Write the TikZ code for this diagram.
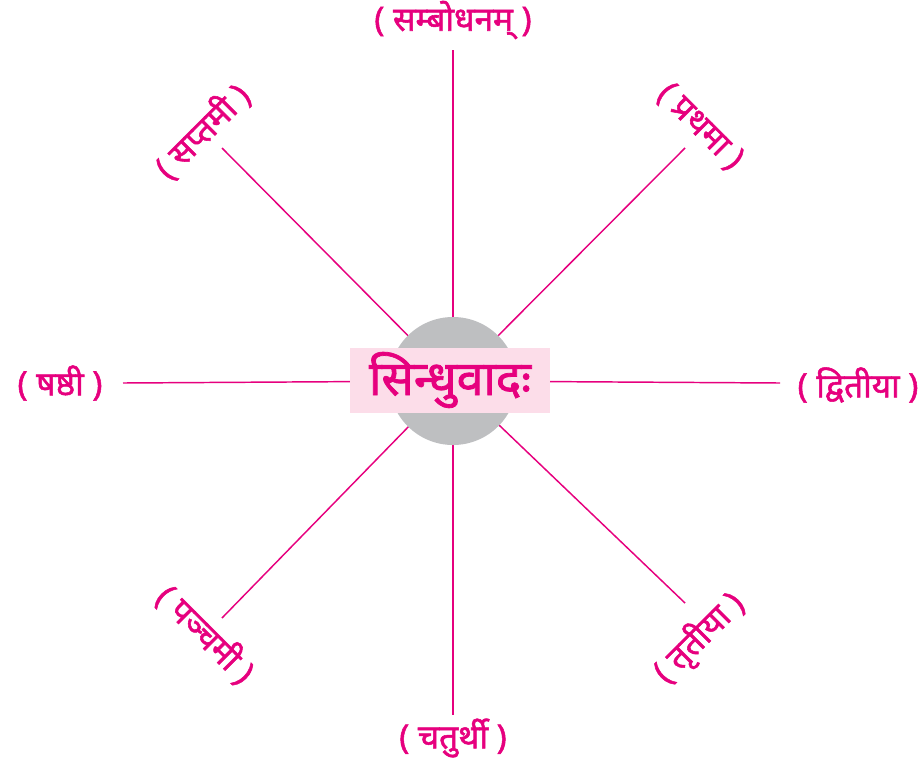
\documentclass[tikz,border=0pt]{standalone}
\usepackage{fontspec}
\newfontfamily\devfont[Script=Devanagari, FakeBold=1.6]{Noto Sans}
\definecolor{caseink}{RGB}{230,0,126}
\definecolor{titlepink}{RGB}{252,221,233}
\definecolor{discgray}{RGB}{190,191,193}

\tikzset{every picture/.style={line width=0.75pt}}
\tikzset{
  spoke/.style={draw=caseink, line width=1.1pt},
  caselabel/.style={text=caseink, inner sep=0.75pt, font=\devfont\fontsize{25}{29}\selectfont},
}

\begin{document}
\begin{tikzpicture}[x=0.75pt,y=0.75pt,yscale=-1,xscale=1]
\useasboundingbox (0,0) rectangle (923,764);

%centre of the wheel
\coordinate (hub) at (453,381);
%spoke ends
\coordinate (endN) at (453,50);
\coordinate (endS) at (453,715);
\coordinate (endW) at (123,383);
\coordinate (endE) at (780,383);
\coordinate (endNW) at (222,148);
\coordinate (endNE) at (685,148);
\coordinate (endSW) at (222,618);
\coordinate (endSE) at (685,603);

%Straight Lines
\foreach \e in {endN,endS,endW,endE,endNW,endNE,endSW,endSE}
  \draw [spoke] (hub) -- (\e) ;

%Shape: Circle
\fill [discgray] (hub) circle [radius=64] ;
%Shape: Rectangle
\node (title) [fill=titlepink, minimum width=200*0.75pt, minimum height=65*0.75pt, inner sep=0pt,
  text=caseink, font=\devfont\fontsize{36}{40}\selectfont] at (450,380) {सिन्धुवादः};

% Text Node
\node (sambodhana) [caselabel] at (453,20) {( सम्बोधनम् )};
% Text Node
\node (prathama) [caselabel, rotate=-45] at (700,127) {( प्रथमा )};
% Text Node
\node (dvitiya) [caselabel] at (858,385) {( द्वितीया )};
% Text Node
\node (tritiya) [caselabel, rotate=45] at (699,638) {( तृतीया )};
% Text Node
\node (chaturthi) [caselabel] at (453,738) {( चतुर्थी )};
% Text Node
\node (panchami) [caselabel, rotate=-45] at (206,634) {( पञ्चमी )};
% Text Node
\node (shashthi) [caselabel] at (60,383) {( षष्ठी )};
% Text Node
\node (saptami) [caselabel, rotate=45] at (202,131) {( सप्तमी )};

\end{tikzpicture}
\end{document}
